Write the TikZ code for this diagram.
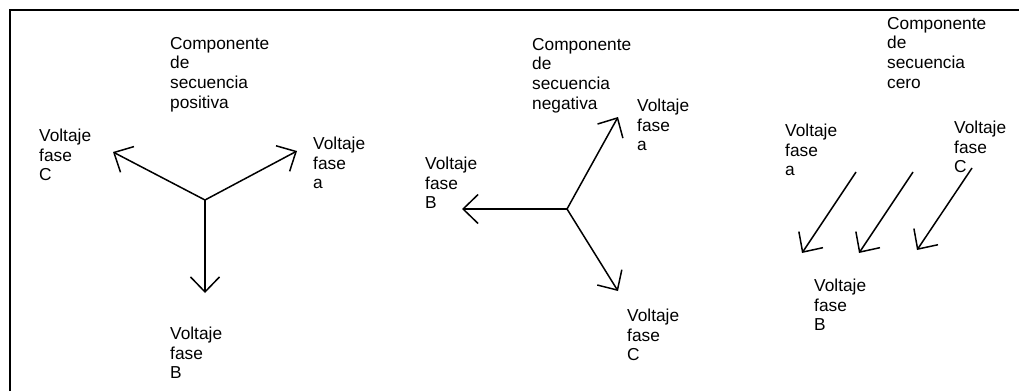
\documentclass[tikz,border=0pt]{standalone}
\usepackage{fontspec}
\setmainfont{Liberation Sans}
\usetikzlibrary{arrows.meta}
\begin{document}
\begin{tikzpicture}[x=1pt,y=-1pt,
  lbl/.style={anchor=north west,inner sep=0pt,align=left,
    font=\fontsize{17.3}{19.6}\selectfont},
  vec/.style={line width=1.5pt,-{Straight Barb[length=15pt,width=29pt,line width=1.5pt]}},
  frame/.style={line width=2.2pt}]
\useasboundingbox (0,0) rectangle (1019,391);
% frame
\coordinate (f1) at (10,391);
\coordinate (f2) at (10,10);
\coordinate (f3) at (1019,10);
\draw[frame] (f1) -- (f2) -- (f3);

% ---- panel 1: positive sequence
\node[lbl] (comp1) at (170,37) {Componente\\de\\secuencia\\positiva};
\node[lbl] (C1) at (39,129) {Voltaje\\fase\\C};
\node[lbl] (a1) at (313,137) {Voltaje\\fase\\a};
\node[lbl] (B1) at (170,327) {Voltaje\\fase\\B};
\coordinate (o1) at (205,200);
\coordinate (ta1) at (297,151);
\coordinate (tc1) at (113,152);
\coordinate (tb1) at (205,293);
\draw[vec] (o1) -- (ta1);
\draw[vec] (o1) -- (tc1);
\draw[vec] (o1) -- (tb1);

% ---- panel 2: negative sequence
\node[lbl] (comp2) at (532,38) {Componente\\de\\secuencia\\negativa};
\node[lbl] (a2) at (637,99) {Voltaje\\fase\\a};
\node[lbl] (B2) at (425,157) {Voltaje\\fase\\B};
\node[lbl] (C2) at (627,309) {Voltaje\\fase\\C};
\coordinate (o2) at (567,209);
\coordinate (ta2) at (618,117);
\coordinate (tb2) at (462,209);
\coordinate (tc2) at (618,291);
\draw[vec] (o2) -- (ta2);
\draw[vec] (o2) -- (tb2);
\draw[vec] (o2) -- (tc2);

% ---- panel 3: zero sequence
\node[lbl] (comp3) at (887,17) {Componente\\de\\secuencia\\cero};
\node[lbl] (a3) at (785,124) {Voltaje\\fase\\a};
\node[lbl] (C3) at (954,121) {Voltaje\\fase\\C};
\node[lbl] (B3) at (814,279) {Voltaje\\fase\\B};
\coordinate (s1) at (856,172);
\coordinate (e1) at (802,253);
\coordinate (s2) at (913,172);
\coordinate (e2) at (859,253);
\coordinate (s3) at (972,168);
\coordinate (e3) at (917,250);
\draw[vec] (s1) -- (e1);
\draw[vec] (s2) -- (e2);
\draw[vec] (s3) -- (e3);
\end{tikzpicture}
\end{document}
